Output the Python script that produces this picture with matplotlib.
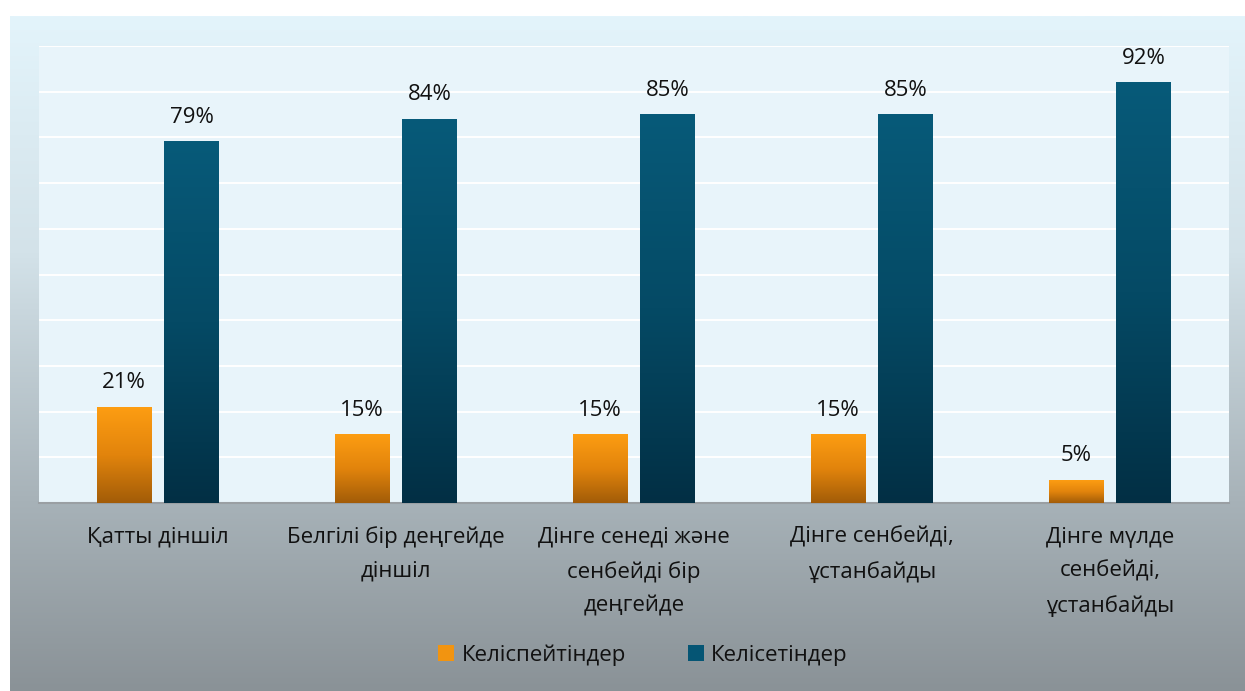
import numpy as np
import matplotlib
matplotlib.use("Agg")
import matplotlib.pyplot as plt
from matplotlib.colors import LinearSegmentedColormap
from matplotlib.patches import Patch

plt.rcParams['font.family'] = ['Open Sans', 'DejaVu Sans']

categories = ["Қатты діншіл", "Белгілі бір деңгейде\nдіншіл", "Дінге сенеді және\nсенбейді бір\nдеңгейде",
              "Дінге сенбейді,\nұстанбайды", "Дінге мүлде\nсенбейді,\nұстанбайды"]
series_names = ["Келіспейтіндер", "Келісетіндер"]
disagree = [21, 15, 15, 15, 5]
agree = [79, 84, 85, 85, 92]

W, H = 1245, 691
FS = 16
fig = plt.figure(figsize=(W / 100, H / 100), dpi=100, facecolor="white")

# background gradient panel
bg = fig.add_axes([10 / W, 0, 1 - 10 / W, 675 / H])
bg.set_axis_off()
grad = np.linspace(0, 1, 256).reshape(-1, 1)
bg_cmap = LinearSegmentedColormap.from_list("bg", [(0, "#e3f4fb"), (0.35, "#d3e2e9"), (0.72, "#a7b2b8"), (1, "#8a9297")])
bg.imshow(grad, aspect="auto", cmap=bg_cmap, extent=[0, 1, 0, 1], origin="upper")
bg.set_xlim(0, 1)
bg.set_ylim(0, 1)

ax = fig.add_axes([39 / W, (H - 503) / H, 1190 / W, 457 / H])
ax.set_facecolor("#e8f4fa")
x = np.arange(len(categories))
ax.set_yticks(np.arange(0, 101, 10))
ax.yaxis.grid(True, color="white", linewidth=1.4)
ax.set_axisbelow(True)
for s in ["top", "right", "left"]:
    ax.spines[s].set_visible(False)
ax.spines["bottom"].set_color("#9a9fa3")
ax.spines["bottom"].set_linewidth(1.5)
ax.tick_params(axis="y", length=0, labelleft=False)
ax.tick_params(axis="x", length=0, pad=17)

bw = 0.23
off = 0.142
orange_cmap = LinearSegmentedColormap.from_list("or", ["#fd9d12", "#e2840c", "#a25c08"])
blue_cmap = LinearSegmentedColormap.from_list("bl", ["#075a79", "#054a65", "#022f44"])

b1 = ax.bar(x - off, disagree, width=bw, color="#f29410", label=series_names[0], zorder=2)
b2 = ax.bar(x + off, agree, width=bw, color="#055574", label=series_names[1], zorder=2)

g = np.linspace(0, 1, 256).reshape(-1, 1)
for bars, cm in [(b1, orange_cmap), (b2, blue_cmap)]:
    for p in bars:
        x0, w, h = p.get_x(), p.get_width(), p.get_height()
        ax.imshow(g, aspect="auto", cmap=cm, extent=[x0, x0 + w, 0, h], origin="upper", zorder=3)
        p.set_facecolor("none")
        ax.annotate(f"{h:.0f}%", (x0 + w / 2, h), xytext=(0, 10), textcoords="offset points",
                    ha="center", va="bottom", fontsize=FS, color="#111111", zorder=4)
ax.set_xlim(-0.5, len(categories) - 0.5)
ax.set_ylim(0, 100)

ax.set_xticks(x)
ax.set_xticklabels(categories, fontsize=FS, color="#111111", linespacing=1.78, va="top")

handles = [Patch(facecolor="#f29410"), Patch(facecolor="#055574")]
fig.legend(handles, series_names, loc="center", bbox_to_anchor=(643 / W, 1 - 655 / H), ncol=2,
           frameon=False, fontsize=FS, handlelength=0.7, handleheight=0.7, handletextpad=0.35,
           columnspacing=2.8, labelcolor="#111111")

fig.savefig("out.png", dpi=100, facecolor="white")
